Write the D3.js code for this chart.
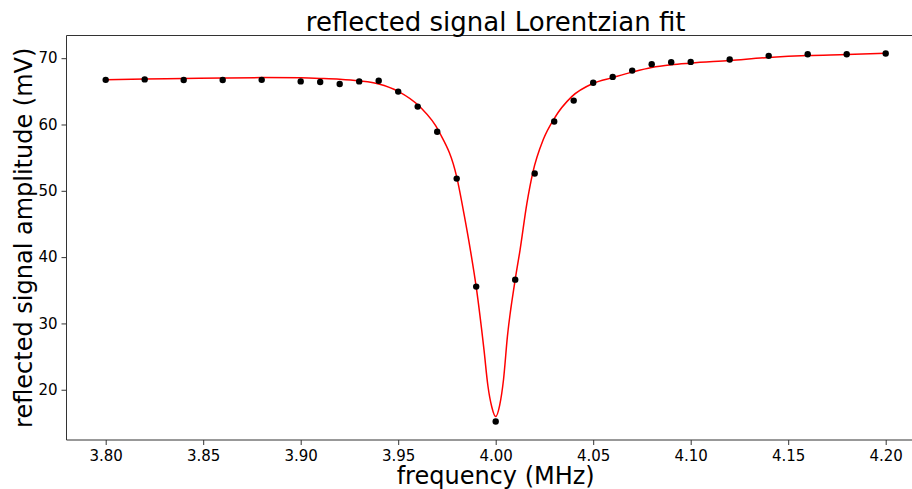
<!DOCTYPE html>
<html>
<head>
<meta charset="utf-8">
<script src="https://cdn.jsdelivr.net/npm/d3@7"></script>
<style>
  body { margin: 0; background: #fff; }
  svg { display: block; font-family: "DejaVu Sans", sans-serif; }
</style>
</head>
<body>
<div id="chart"></div>
<script>
// measured points (MHz, mV)
var freq = [3.80, 3.82, 3.84, 3.86, 3.88, 3.90, 3.91, 3.92, 3.93, 3.94,
            3.95, 3.96, 3.97, 3.98, 3.99, 4.00, 4.01, 4.02, 4.03, 4.04,
            4.05, 4.06, 4.07, 4.08, 4.09, 4.10, 4.12, 4.14, 4.16, 4.18, 4.20];
var amp = [66.73, 66.8, 66.7, 66.7, 66.73, 66.5, 66.4, 66.1, 66.5, 66.6,
           64.96, 62.7, 58.9, 51.84, 35.55, 15.2, 36.6, 52.6, 60.44, 63.6,
           66.3, 67.18, 68.13, 69.1, 69.4, 69.44, 69.8, 70.35, 70.6, 70.6, 70.7];

// fit curve
var fitFreq = [3.800, 3.820, 3.840, 3.860, 3.880, 3.900, 3.910, 3.920, 3.930, 3.940,
               3.950, 3.961, 3.971, 3.980, 3.984, 3.987, 3.990, 3.994, 3.996, 3.998,
               4.000, 4.002, 4.004, 4.006, 4.010, 4.0125, 4.016, 4.019, 4.0245, 4.030,
               4.039, 4.050, 4.060, 4.070, 4.080, 4.090, 4.100, 4.120, 4.140, 4.160,
               4.180, 4.200];
var fitAmp = [66.75, 66.85, 66.93, 67.02, 67.07, 67.03, 66.95, 66.83, 66.58, 66.12,
              65.0, 62.7, 58.9, 52.1, 46.1, 41.1, 35.5, 26.0, 20.6, 17.4,
              15.95, 17.6, 21.5, 28.0, 36.6, 41.1, 48.1, 52.7, 57.8, 60.9,
              64.2, 66.2, 67.07, 67.9, 68.6, 69.0, 69.25, 69.65, 70.1, 70.4,
              70.55, 70.75];

var xTicks = [3.80, 3.85, 3.90, 3.95, 4.00, 4.05, 4.10, 4.15, 4.20];
var yTicks = [20, 30, 40, 50, 60, 70];

var width = 912, height = 489;
var plotLeft = 66.5, plotTop = 35.5, plotBottom = 440;

var x = d3.scaleLinear().domain([3.78, 4.22]).range([66.7, 924.7]);
var y = d3.scaleLinear().domain([12.42, 73.42]).range([plotBottom, plotTop]);

var svg = d3.select("#chart").append("svg")
    .attr("width", width)
    .attr("height", height);

// axes
var xAxis = svg.append("g")
    .attr("transform", "translate(0," + plotBottom + ")")
    .call(d3.axisBottom(x).tickValues(xTicks).tickFormat(d3.format(".2f"))
        .tickSize(5).tickPadding(5).tickSizeOuter(0));
var yAxis = svg.append("g")
    .attr("transform", "translate(" + plotLeft + ",0)")
    .call(d3.axisLeft(y).tickValues(yTicks).tickFormat(d3.format("d"))
        .tickSize(5).tickPadding(4).tickSizeOuter(0));

svg.selectAll(".domain").remove();
svg.selectAll(".tick line").attr("stroke", "#333");
svg.selectAll(".tick text")
    .attr("fill", "#000")
    .style("font-size", "15px")
    .style("font-family", "DejaVu Sans");
xAxis.selectAll(".tick text").attr("dy", "0.76em");

// spines (right one falls outside the picture)
svg.append("line").attr("x1", plotLeft).attr("x2", width)
    .attr("y1", plotTop).attr("y2", plotTop).attr("stroke", "#333");
svg.append("line").attr("x1", plotLeft).attr("x2", width)
    .attr("y1", plotBottom).attr("y2", plotBottom).attr("stroke", "#333");
svg.append("line").attr("x1", plotLeft).attr("x2", plotLeft)
    .attr("y1", plotTop).attr("y2", plotBottom).attr("stroke", "#333");

// fit line
var line = d3.line()
    .x(function(d, i) { return x(fitFreq[i]); })
    .y(function(d) { return y(d); })
    .curve(d3.curveMonotoneX);

svg.append("path")
    .datum(fitAmp)
    .attr("d", line)
    .attr("fill", "none")
    .attr("stroke", "#ff0000")
    .attr("stroke-width", 1.5);

// data points
svg.selectAll("circle.pt").data(amp).enter().append("circle")
    .attr("class", "pt")
    .attr("cx", function(d, i) { return x(freq[i]); })
    .attr("cy", function(d) { return y(d); })
    .attr("r", 3.2)
    .attr("fill", "#000");

// labels
svg.append("text")
    .attr("x", (66.7 + 924.7) / 2).attr("y", 31)
    .attr("text-anchor", "middle")
    .style("font-size", "26px")
    .text("reflected signal Lorentzian fit");

svg.append("text")
    .attr("x", (66.7 + 924.7) / 2).attr("y", 484)
    .attr("text-anchor", "middle")
    .style("font-size", "24px")
    .text("frequency (MHz)");

svg.append("text")
    .attr("transform", "translate(32," + ((plotTop + plotBottom) / 2) + ") rotate(-90)")
    .attr("text-anchor", "middle")
    .style("font-size", "24px")
    .text("reflected signal amplitude (mV)");
</script>
</body>
</html>
